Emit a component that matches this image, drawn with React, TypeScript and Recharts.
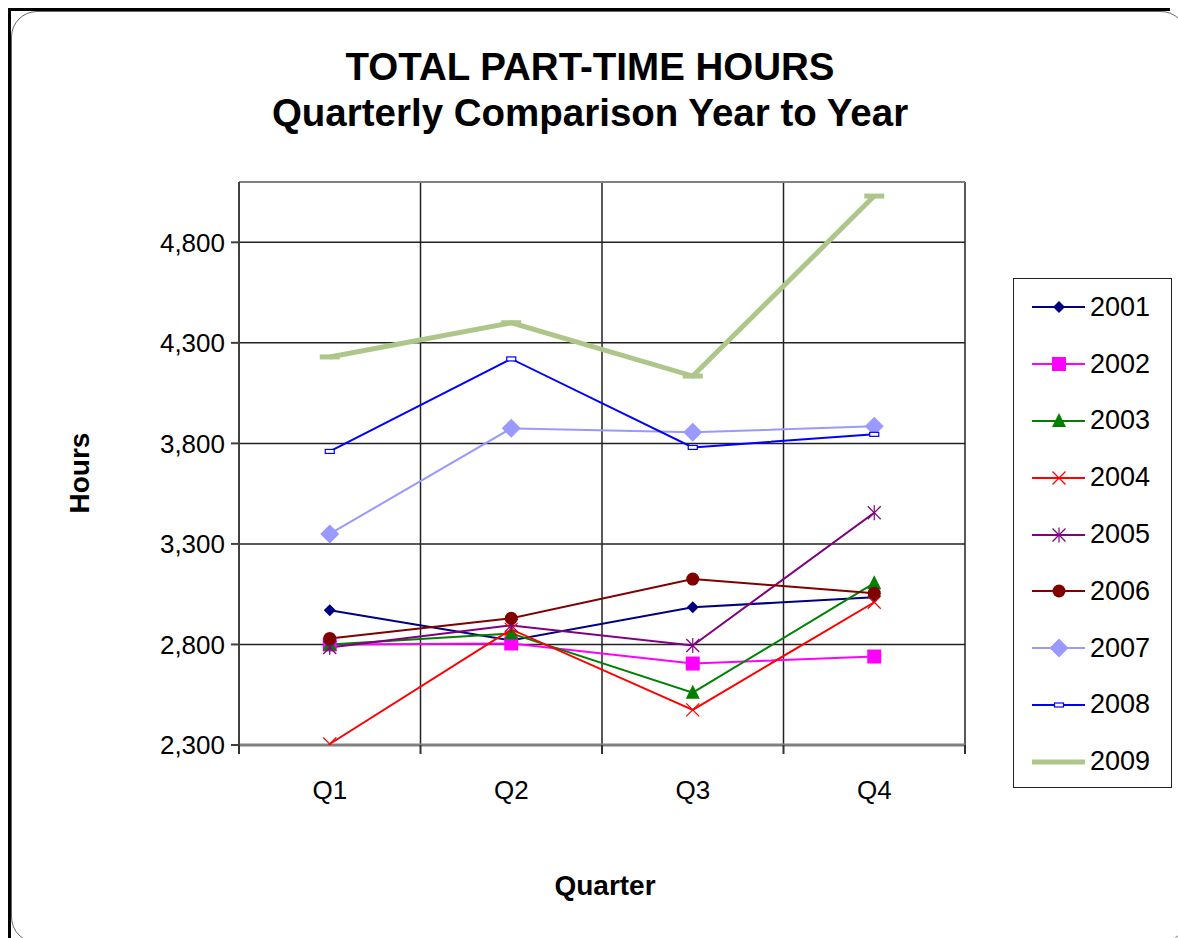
import {
  LineChart,
  Line,
  XAxis,
  YAxis,
  CartesianGrid,
  ReferenceLine,
} from 'recharts';

const QUARTERS = ['Q1', 'Q2', 'Q3', 'Q4'];
const Y2001 = [2970, 2820, 2985, 3035];
const Y2002 = [2800, 2805, 2705, 2740];
const Y2003 = [2800, 2855, 2560, 3105];
const Y2004 = [2305, 2875, 2475, 3010];
const Y2005 = [2785, 2895, 2795, 3455];
const Y2006 = [2830, 2930, 3125, 3055];
const Y2007 = [3350, 3875, 3855, 3885];
const Y2008 = [3760, 4220, 3780, 3845];
const Y2009 = [4230, 4400, 4135, 5030];
const Y_TICKS = [2300, 2800, 3300, 3800, 4300, 4800];
const Y_MIN = 2300;
const Y_MAX = 5100;

type MarkerType = 'diamond' | 'square' | 'triangle' | 'cross' | 'star' | 'circle' | 'bigDiamond' | 'rect' | 'dash';

const SERIES: { name: string; values: number[]; color: string; marker: MarkerType; width: number }[] = [
  { name: '2001', values: Y2001, color: '#000080', marker: 'diamond', width: 2 },
  { name: '2002', values: Y2002, color: '#FF00FF', marker: 'square', width: 2 },
  { name: '2003', values: Y2003, color: '#008000', marker: 'triangle', width: 2 },
  { name: '2004', values: Y2004, color: '#FF0000', marker: 'cross', width: 2 },
  { name: '2005', values: Y2005, color: '#800080', marker: 'star', width: 2 },
  { name: '2006', values: Y2006, color: '#800000', marker: 'circle', width: 2 },
  { name: '2007', values: Y2007, color: '#9999FF', marker: 'bigDiamond', width: 2 },
  { name: '2008', values: Y2008, color: '#0000FF', marker: 'rect', width: 2 },
  { name: '2009', values: Y2009, color: '#AEC68A', marker: 'dash', width: 5 },
];

const chartData = QUARTERS.map((q, i) => {
  const row: Record<string, string | number> = { quarter: q };
  SERIES.forEach((s) => {
    row[s.name] = s.values[i];
  });
  return row;
});

const FONT = '"Liberation Sans", Arial, sans-serif';
const X_TICK_MARGIN = 36;

function Marker({ type, cx, cy, color }: { type: MarkerType; cx: number; cy: number; color: string }) {
  switch (type) {
    case 'diamond':
      return <polygon points={`${cx},${cy - 6} ${cx + 6},${cy} ${cx},${cy + 6} ${cx - 6},${cy}`} fill={color} />;
    case 'bigDiamond':
      return <polygon points={`${cx},${cy - 9.5} ${cx + 9.5},${cy} ${cx},${cy + 9.5} ${cx - 9.5},${cy}`} fill={color} />;
    case 'square':
      return <rect x={cx - 7} y={cy - 7} width={14} height={14} fill={color} />;
    case 'triangle':
      return <polygon points={`${cx},${cy - 8} ${cx + 7},${cy + 6} ${cx - 7},${cy + 6}`} fill={color} />;
    case 'cross':
      return (
        <g stroke={color} strokeWidth={1.2}>
          <line x1={cx - 6.5} y1={cy - 6.5} x2={cx + 6.5} y2={cy + 6.5} />
          <line x1={cx - 6.5} y1={cy + 6.5} x2={cx + 6.5} y2={cy - 6.5} />
        </g>
      );
    case 'star':
      return (
        <g stroke={color} strokeWidth={1.2}>
          <line x1={cx - 6.5} y1={cy - 6.5} x2={cx + 6.5} y2={cy + 6.5} />
          <line x1={cx - 6.5} y1={cy + 6.5} x2={cx + 6.5} y2={cy - 6.5} />
          <line x1={cx} y1={cy - 7.5} x2={cx} y2={cy + 7.5} />
        </g>
      );
    case 'circle':
      return <circle cx={cx} cy={cy} r={6.5} fill={color} />;
    case 'rect':
      return <rect x={cx - 4.5} y={cy - 2} width={9} height={4} fill="#fff" stroke={color} strokeWidth={1.2} />;
    case 'dash':
      return <rect x={cx - 10} y={cy - 2.5} width={20} height={5} fill={color} />;
    default:
      return null;
  }
}

// category label plus tick marks on the band boundaries (Excel style)
function QuarterTick(props: any) {
  const { x, y, payload, index } = props;
  const half = payload.offset || 0;
  const axisY = y - X_TICK_MARGIN;
  return (
    <g>
      <line x1={x - half} x2={x - half} y1={axisY} y2={axisY + 9} stroke="#333" strokeWidth={2} />
      {index === QUARTERS.length - 1 && (
        <line x1={x + half} x2={x + half} y1={axisY} y2={axisY + 9} stroke="#333" strokeWidth={2} />
      )}
      <text x={x} y={y} dy="0.71em" textAnchor="middle" fill="#000" fontSize={26} fontFamily={FONT}>
        {payload.value}
      </text>
    </g>
  );
}

function LegendBox() {
  return (
    <div
      style={{
        position: 'absolute',
        left: 1005,
        top: 270,
        width: 159,
        height: 510,
        border: '1.5px solid #222',
        background: '#fff',
        fontFamily: FONT,
        fontSize: 27,
        color: '#000',
        boxSizing: 'border-box',
      }}
    >
      {SERIES.map((s) => (
        <div key={s.name} style={{ height: 56.8, display: 'flex', alignItems: 'center' }}>
          <svg width={74} height={24} style={{ display: 'block' }}>
            <line x1={18} y1={12} x2={71} y2={12} stroke={s.color} strokeWidth={s.width === 5 ? 5 : 2} />
            {s.marker !== 'dash' && <Marker type={s.marker} cx={45} cy={12} color={s.color} />}
          </svg>
          <span style={{ marginLeft: 2 }}>{s.name}</span>
        </div>
      ))}
    </div>
  );
}

export default function App() {
  return (
    <div
      style={{
        position: 'fixed',
        left: 8,
        top: 8,
        width: 1170,
        height: 930,
        background: '#fff',
        overflow: 'hidden',
      }}
    >
      {/* frame */}
      <div style={{ position: 'absolute', left: 0, top: 0, width: 1162, height: 3, background: '#000' }} />
      <div style={{ position: 'absolute', left: 0, top: 0, width: 3, height: 930, background: '#000' }} />
      <div
        style={{
          position: 'absolute',
          left: 3,
          top: 3,
          width: 1176,
          height: 932,
          border: '1px solid #666',
          borderRadius: 26,
          boxSizing: 'border-box',
        }}
      />

      <div
        style={{
          position: 'absolute',
          left: 0,
          top: 36,
          width: 1164,
          textAlign: 'center',
          fontFamily: FONT,
          fontWeight: 'bold',
          fontSize: 38.5,
          lineHeight: '46px',
          color: '#000',
        }}
      >
        <div>TOTAL PART-TIME HOURS</div>
        <div>Quarterly Comparison Year to Year</div>
      </div>

      <div
        style={{
          position: 'absolute',
          left: 72,
          top: 465,
          transform: 'translate(-50%, -50%) rotate(-90deg)',
          fontFamily: FONT,
          fontWeight: 'bold',
          fontSize: 28,
          color: '#000',
        }}
      >
        Hours
      </div>
      <div
        style={{
          position: 'absolute',
          left: 597,
          top: 878,
          transform: 'translate(-50%, -50%)',
          fontFamily: FONT,
          fontWeight: 'bold',
          fontSize: 28,
          color: '#000',
        }}
      >
        Quarter
      </div>

      <div style={{ position: 'absolute', left: 0, top: 0 }}>
        <LineChart
          width={1170}
          height={930}
          data={chartData}
          margin={{ top: 174, right: 213, bottom: 133, left: 0 }}
        >
          <CartesianGrid
            stroke="#222"
            strokeWidth={1.5}
            verticalCoordinatesGenerator={({ offset }: any) =>
              [0, 1, 2, 3, 4].map((t) => offset.left + (offset.width * t) / QUARTERS.length)
            }
          />
          <XAxis
            dataKey="quarter"
            scale="band"
            height={60}
            axisLine={{ stroke: '#808080', strokeWidth: 3 }}
            tickLine={false}
            tickSize={0}
            tickMargin={X_TICK_MARGIN}
            tick={<QuarterTick />}
          />
          <YAxis
            domain={[Y_MIN, Y_MAX]}
            ticks={Y_TICKS}
            allowDataOverflow
            width={231}
            tickSize={8}
            tickMargin={6}
            tickFormatter={(v: number) => v.toLocaleString('en-US')}
            axisLine={{ stroke: '#404040', strokeWidth: 2 }}
            tickLine={{ stroke: '#404040', strokeWidth: 2 }}
            tick={{ fill: '#000', fontSize: 26, fontFamily: FONT }}
          />
          <ReferenceLine y={Y_MAX} stroke="#808080" strokeWidth={2} />
          {SERIES.map((s) => (
            <Line
              key={s.name}
              dataKey={s.name}
              name={s.name}
              stroke={s.color}
              strokeWidth={s.width}
              isAnimationActive={false}
              activeDot={false}
              dot={(p: any) => (
                <Marker key={`${s.name}-${p.index}`} type={s.marker} cx={p.cx} cy={p.cy} color={s.color} />
              )}
            />
          ))}
        </LineChart>
      </div>
      <LegendBox />
    </div>
  );
}
